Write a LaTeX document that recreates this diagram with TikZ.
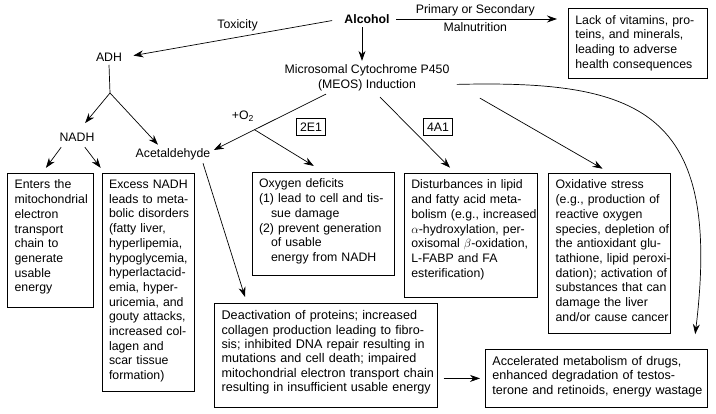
\documentclass[tikz,border=0pt]{standalone}
\usepackage{fontspec}
\setmainfont{Liberation Sans}
\usetikzlibrary{calc, positioning, arrows.meta}
\newcommand\keeplines{\rightskip=0pt plus 1fil minus 30pt\relax\hyphenpenalty=10000\relax\exhyphenpenalty=10000\relax}
\tikzstyle{every node}=[font=\fontsize{12.3}{14.7}\selectfont]
\tikzstyle{effect}=[draw, anchor=north west, align=left, inner xsep=7pt, inner ysep=7pt, line width=0.7pt, execute at begin node=\keeplines]
\tikzstyle{wide effect}=[effect, font=\fontsize{12.6}{14.4}\selectfont]
\tikzstyle{isoform}=[draw, inner xsep=3.8pt, inner ysep=4.2pt, line width=0.7pt]
\tikzstyle{flow}=[->, line width=0.7pt]

\begin{document}
\begin{tikzpicture}[x=1pt, y=-1pt, >={Stealth[length=10pt,width=7pt]}]
        \useasboundingbox (0,0) rectangle (716,414);

        \node[font=\fontsize{12.3}{14.7}\selectfont\bfseries] (alcohol) at (367,19) {Alcohol};
        \node (adh) at (109,57) {ADH};
        \node (nadh) at (77,137) {NADH};
        \node (acet) at (173,154) {Acetaldehyde};
        \node[align=center] (meos) at (367,77.5) {Microsomal Cytochrome P450\\(MEOS) Induction};
        \node (otwo) at (243,116) {+O\textsubscript{2}};
        \node[isoform] (cyp2e1) at (311,127) {2E1};
        \node[isoform] (cyp4a1) at (438,127) {4A1};

        % effect boxes
        \node[effect, text width=125pt, text depth=47pt] (lack) at (568,8)
            {Lack of vitamins, pro-\\teins, and minerals,\\leading to adverse\\health consequences};
        \node[effect, text width=71.4pt, text depth=111.6pt] (enters) at (7.3,172.7)
            {Enters the\\mitochondrial\\electron\\transport\\chain to\\generate\\usable\\energy};
        \node[effect, text width=78.6pt, text depth=196pt] (excess) at (101.7,172.7)
            {Excess NADH\\leads to meta-\\bolic disorders\\(fatty liver,\\hyperlipemia,\\hypoglycemia,\\hyperlactacid-\\emia, hyper-\\uricemia, and\\gouty attacks,\\increased col-\\lagen and\\scar tissue\\formation)};
        \node[effect, text width=128.3pt, text depth=80.3pt] (oxygen) at (251.7,171.7)
            {Oxygen deficits\\(1) lead to cell and tis-\\\hspace*{12pt}sue damage\\(2) prevent generation\\\hspace*{12pt}of usable\\\hspace*{12pt}energy from NADH};
        \node[effect, text width=119.3pt, text depth=101.6pt] (lipid) at (404,172.7)
            {Disturbances in lipid\\and fatty acid meta-\\bolism (e.g., increased\\$\alpha$-hydroxylation, per-\\oxisomal $\beta$-oxidation,\\L-FABP and FA\\esterification)};
        \node[effect, text width=107.7pt, text depth=137pt] (stress) at (548.3,172.7)
            {Oxidative stress\\(e.g., production of\\reactive oxygen\\species, depletion of\\the antioxidant glu-\\tathione, lipid peroxi-\\dation); activation of\\substances that can\\damage the liver\\and/or cause cancer};
        \node[wide effect, text width=208.7pt, text depth=80.5pt] (deact) at (214.3,303.3)
            {Deactivation of proteins; increased\\collagen production leading to fibro-\\sis; inhibited DNA repair resulting in\\mutations and cell death; impaired\\mitochondrial electron transport chain\\resulting in insufficient usable energy};
        \node[wide effect, text width=207.7pt, text depth=35pt] (accel) at (485,349)
            {Accelerated metabolism of drugs,\\enhanced degradation of testos-\\terone and retinoids, energy wastage};

        % connectors
        \coordinate (fork) at (110,93);
        \draw[flow, shorten <=9pt, shorten >=8pt] (alcohol.west) -- (adh.east)
            node[pos=.48, above=3pt] (toxicity) {Toxicity};
        \draw[flow, shorten <=3pt, shorten >=11pt] (alcohol.east) -- (alcohol.east -| lack.west)
            node[pos=.47, above=-1pt] (primary) {Primary or Secondary}
            node[pos=.47, below=0pt] (malnut) {Malnutrition};
        \draw[flow] ([xshift=-5pt]alcohol.south) -- ([xshift=-5pt]alcohol.south |- meos.north);
        \draw[line width=0.7pt] (adh.south) -- (fork);
        \draw[flow, shorten >=8pt] (fork) -- ([xshift=3pt]nadh.north);
        \draw[flow] (fork) -- ([xshift=-15pt]acet.north);
        \draw[flow, shorten <=3pt, shorten >=6pt] ([xshift=-14pt]nadh.south) -- ([xshift=-8pt]enters.north);
        \draw[flow, shorten <=3pt, shorten >=6pt] ([xshift=6pt]nadh.south) -- ([xshift=-44pt]excess.north);
        \draw[flow] ([xshift=-41pt]meos.south) -- ([yshift=4pt]acet.east) coordinate[pos=.637] (branch);
        \draw[flow, shorten >=11pt] (branch) -- (oxygen.north);
        \draw[flow, shorten >=7pt] ([xshift=13pt,yshift=-3pt]meos.south) -- ([xshift=-16pt]lipid.north);
        \draw[flow, shorten >=8pt] ([xshift=27pt,yshift=-4pt]meos.south east) -- (stress.north);
        \draw[flow, shorten >=6.6pt] ([xshift=30pt]acet.south) -- ([xshift=-79pt]deact.north);
        \draw[flow, shorten <=6pt, shorten >=5pt] (accel.west -| deact.east) -- (accel.west);
        \draw[flow, shorten <=4pt, shorten >=15pt] ([yshift=-7pt]meos.east) .. controls +(187,-4.5) and +(29,-239) .. ([xshift=-14pt]accel.north east);
\end{tikzpicture}
\end{document}
